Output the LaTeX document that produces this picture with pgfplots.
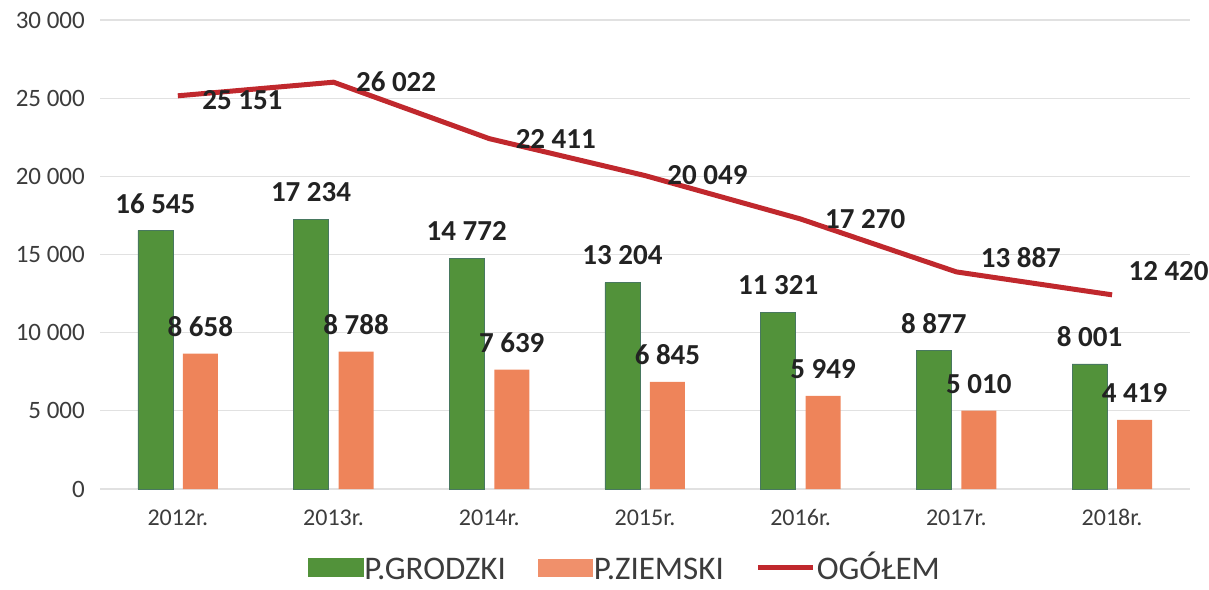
\documentclass[border=0pt]{standalone}
\usepackage{fontspec}
\setmainfont{Carlito}
\usepackage{pgfplots}
\pgfplotsset{compat=1.18}
\usepackage{pgfplotstable}
\definecolor{grn}{RGB}{82,146,58}
\definecolor{grnedge}{RGB}{72,120,95}
\definecolor{org}{RGB}{238,132,90}
\definecolor{redl}{RGB}{192,40,45}
\definecolor{ticktxt}{RGB}{60,60,60}
\definecolor{labtxt}{RGB}{34,34,34}
\definecolor{gridc}{RGB}{225,225,225}

\pgfplotstableread{
x grodzki ziemski
0 16545 8658
1 17234 8788
2 14772 7639
3 13204 6845
4 11321 5949
5 8877 5010
6 8001 4419
}\barstab

\pgfplotstableread{
x total dx dy
0 25151 22 -4
1 26022 20 0
2 22411 24 0
3 20049 20 0
4 17270 22 0
5 13887 22 14
6 12420 14 24
}\linetab

\begin{document}
\begin{tikzpicture}
\begin{axis}[
  scale only axis,
  width=1090pt, height=469pt,
  xmin=-0.5, xmax=6.5,
  ymin=0, ymax=30000,
  xtick={0,...,6},
  xticklabels={2012r.,2013r.,2014r.,2015r.,2016r.,2017r.,2018r.},
  ytick={0,5000,...,30000},
  scaled y ticks=false,
  /pgf/number format/.cd, fixed, precision=0, 1000 sep={\ }, assume math mode=true,
  /pgfplots/.cd,
  ymajorgrids,
  grid style={draw=gridc, line width=1.2pt},
  axis line style={draw=none},
  major tick length=0pt,
  tick label style={font=\fontsize{24}{28}\selectfont, text=ticktxt},
  yticklabel style={inner sep=0pt, xshift=-15pt, font=\fontsize{25}{28}\selectfont},
  xticklabel style={yshift=-17pt},
  legend style={
    at={(0.481,-0.168)}, anchor=center, draw=none, fill=none,
    legend columns=3, inner sep=0pt,
    font=\fontsize{33}{35}\selectfont, text=ticktxt,
    nodes={inner sep=1pt, text height=23pt, text depth=0pt},
    /tikz/every even column/.append style={column sep=31pt},
  },
  legend cell align=left,
]
\addplot[ybar, bar width=35pt, bar shift=-22.5pt, fill=grn, draw=grnedge, line width=0.6pt,
  nodes near coords,
  every node near coord/.append style={anchor=center, xshift=-22.5pt, yshift=27pt, font=\fontsize{29}{32}\selectfont\bfseries, text=labtxt},
  legend image code/.code={\fill[grn] (0pt,-9pt) rectangle (55pt,9pt);}]
  table[x=x, y=grodzki] {\barstab};
\addlegendentry{P.GRODZKI}
\addplot[ybar, bar width=35pt, bar shift=22.5pt, fill=org, draw=none,
  nodes near coords,
  every node near coord/.append style={anchor=center, xshift=22.5pt, yshift=27pt, font=\fontsize{29}{32}\selectfont\bfseries, text=labtxt},
  legend image code/.code={\fill[org!90!white] (0pt,-9pt) rectangle (55pt,9pt);}]
  table[x=x, y=ziemski] {\barstab};
\addlegendentry{P.ZIEMSKI}
\addplot[redl, line width=5pt, line join=round, mark=none,
  visualization depends on={\thisrow{dx} \as \dx},
  visualization depends on={\thisrow{dy} \as \dy},
  nodes near coords,
  every node near coord/.append style={anchor=west, inner sep=0pt, xshift=\dx pt, yshift=\dy pt, font=\fontsize{29}{32}\selectfont\bfseries, text=labtxt},
  legend image code/.code={\draw[redl, line width=5pt] (0pt,0pt) -- (55pt,0pt);}]
  table[x=x, y=total] {\linetab};
\addlegendentry{OGÓŁEM}
\end{axis}
\pgfresetboundingbox
\useasboundingbox (-100pt,-100pt) rectangle (1109pt,489pt);
\end{tikzpicture}
\end{document}
